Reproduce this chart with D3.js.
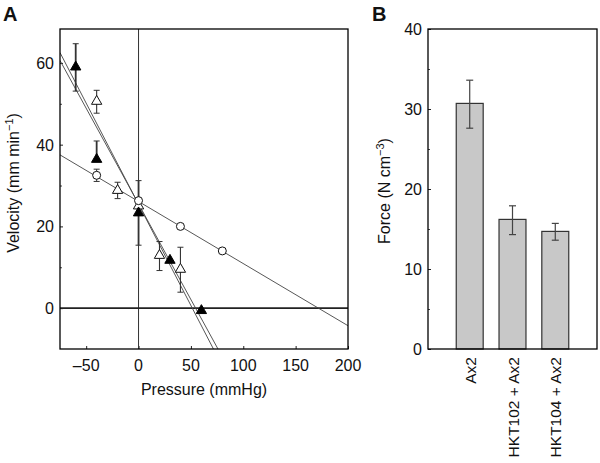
<!DOCTYPE html>
<html>
<head>
<meta charset="utf-8">
<script src="https://cdn.jsdelivr.net/npm/d3@7"></script>
<style>
body { margin: 0; background: #fff; }
text { font-family: "Liberation Sans", Arial, Helvetica, sans-serif; fill: #111; }
</style>
</head>
<body>
<svg id="chart" width="600" height="463"></svg>
<script>
// ---------- Panel A data ----------
const circlePressure = [-40, 0, 40, 80];
const circleVelocity = [32.5, 26.3, 20, 14];
const circleErr = [1.5, 0, 0, 0];

const openTriPressure = [-40, -20, 0, 20, 40];
const openTriVelocity = [50.6, 28.8, 25, 12.9, 9.5];
const openTriErrLow = [47.7, 26.8, 25, 9.2, 3.9];
const openTriErrHigh = [53.3, 30.8, 25, 16.3, 14.9];

const filledTriPressure = [-60, -40, 0, 30, 60];
const filledTriVelocity = [59, 36.4, 23.3, 11.7, -0.6];
const filledTriErrLow = [53.1, 36.4, 15.4, 11.7, -0.6];
const filledTriErrHigh = [64.7, 40.9, 31.2, 11.7, -0.6];

// regression lines: [intercept, slope]
const fitCircle = [26.1, -0.152];
const fitFilled = [25.4, -0.495];
const fitOpen = [25.5, -0.468];

const xTicksA = [-50, 0, 50, 100, 150, 200];
const yTicksA = [0, 20, 40, 60];
const yMinorA = [10, 30, 50];

// ---------- Panel B data ----------
const groups = ["Ax2", "HKT102 + Ax2", "HKT104 + Ax2"];
const force = [30.7, 16.2, 14.7];
const forceErrLow = [27.6, 14.3, 13.6];
const forceErrHigh = [33.6, 17.9, 15.7];
const yTicksB = [0, 10, 20, 30, 40];
const yMinorB = [5, 15, 25, 35];

const svg = d3.select("#chart");

// ================= Panel A =================
const A = { left: 60, right: 348, top: 29, bottom: 349 };
const x = d3.scaleLinear().domain([-75, 200]).range([A.left, A.right]);
const y = d3.scaleLinear().domain([-10, 68.3]).range([A.bottom, A.top]);

const gA = svg.append("g");
svg.append("defs").append("clipPath").attr("id", "clipA")
  .append("rect").attr("x", A.left).attr("y", A.top)
  .attr("width", A.right - A.left).attr("height", A.bottom - A.top);

// axes (ticks inward)
gA.append("g").attr("transform", `translate(0,${A.bottom})`)
  .call(d3.axisTop(x).tickValues(xTicksA).tickSize(3).tickFormat(""))
  .call(g => g.select(".domain").remove())
  .call(g => g.selectAll("line").attr("stroke", "#222"));
gA.append("g")
  .selectAll("text").data(xTicksA).join("text")
  .attr("x", d => x(d)).attr("y", A.bottom + 22)
  .attr("text-anchor", "middle").attr("font-size", 16)
  .text(d => d < 0 ? "\u2013" + Math.abs(d) : d);

gA.append("g").attr("transform", `translate(${A.left},0)`)
  .call(d3.axisRight(y).tickValues(yTicksA).tickSize(3).tickFormat(""))
  .call(g => g.select(".domain").remove())
  .call(g => g.selectAll("line").attr("stroke", "#222"));
gA.append("g").attr("transform", `translate(${A.left},0)`)
  .call(d3.axisRight(y).tickValues(yMinorA).tickSize(2).tickFormat(""))
  .call(g => g.select(".domain").remove())
  .call(g => g.selectAll("line").attr("stroke", "#444"));
gA.append("g")
  .selectAll("text").data(yTicksA).join("text")
  .attr("x", A.left - 6).attr("y", d => y(d) + 6)
  .attr("text-anchor", "end").attr("font-size", 16)
  .text(d => d);

// reference lines
gA.append("line").attr("x1", x(0)).attr("x2", x(0))
  .attr("y1", A.top).attr("y2", A.bottom)
  .attr("stroke", "#333").attr("stroke-width", 1);
gA.append("line").attr("x1", A.left).attr("x2", A.right)
  .attr("y1", y(0)).attr("y2", y(0))
  .attr("stroke", "#222").attr("stroke-width", 1.8);

// fit lines
const fits = [fitCircle, fitFilled, fitOpen];
const lineGen = d3.line().x(d => x(d[0])).y(d => y(d[1]));
gA.append("g").attr("clip-path", "url(#clipA)")
  .selectAll("path").data(fits).join("path")
  .attr("d", f => lineGen([-75, 200].map(p => [p, f[0] + f[1] * p])))
  .attr("fill", "none").attr("stroke", "#444").attr("stroke-width", 0.9);

// error bars
function errBars(g, px, lo, hi, w, color) {
  const data = px.map((p, i) => ({ p, lo: lo[i], hi: hi[i] })).filter(d => d.hi - d.lo > 0.5);
  const eg = g.append("g").attr("stroke", color).attr("stroke-width", w);
  eg.selectAll(".v").data(data).join("line")
    .attr("x1", d => x(d.p)).attr("x2", d => x(d.p))
    .attr("y1", d => y(d.lo)).attr("y2", d => y(d.hi));
  eg.selectAll(".c1").data(data).join("line")
    .attr("x1", d => x(d.p) - 3).attr("x2", d => x(d.p) + 3)
    .attr("y1", d => y(d.hi)).attr("y2", d => y(d.hi)).attr("stroke-width", 1);
  eg.selectAll(".c2").data(data).join("line")
    .attr("x1", d => x(d.p) - 3).attr("x2", d => x(d.p) + 3)
    .attr("y1", d => y(d.lo)).attr("y2", d => y(d.lo)).attr("stroke-width", 1);
}
errBars(gA, circlePressure, circleVelocity.map((v, i) => v - circleErr[i]),
        circleVelocity.map((v, i) => v + circleErr[i]), 1, "#333");
errBars(gA, openTriPressure, openTriErrLow, openTriErrHigh, 1.1, "#333");
errBars(gA, filledTriPressure, filledTriErrLow, filledTriErrHigh, 1.8, "#333");

// markers
const tri = d3.symbol().type(d3.symbolTriangle).size(46);
gA.append("g").selectAll("path").data(openTriPressure.map((p, i) => [p, openTriVelocity[i]])).join("path")
  .attr("d", tri).attr("transform", d => `translate(${x(d[0])},${y(d[1])})`)
  .attr("fill", "#fff").attr("stroke", "#111").attr("stroke-width", 1);
gA.append("g").selectAll("path").data(filledTriPressure.map((p, i) => [p, filledTriVelocity[i]])).join("path")
  .attr("d", tri).attr("transform", d => `translate(${x(d[0])},${y(d[1])})`)
  .attr("fill", "#000").attr("stroke", "#000").attr("stroke-width", 1);
gA.append("g").selectAll("circle").data(circlePressure.map((p, i) => [p, circleVelocity[i]])).join("circle")
  .attr("cx", d => x(d[0])).attr("cy", d => y(d[1])).attr("r", 4)
  .attr("fill", "#fff").attr("stroke", "#111").attr("stroke-width", 1);

// frame
gA.append("rect").attr("x", A.left).attr("y", A.top)
  .attr("width", A.right - A.left).attr("height", A.bottom - A.top)
  .attr("fill", "none").attr("stroke", "#000").attr("stroke-width", 1.3);

// titles
gA.append("text").attr("x", (A.left + A.right) / 2).attr("y", 395)
  .attr("text-anchor", "middle").attr("font-size", 16).text("Pressure (mmHg)");
const vt = gA.append("text").attr("transform", `translate(18.5,${(A.top + A.bottom) / 2 - 6}) rotate(-90)`)
  .attr("text-anchor", "middle").attr("font-size", 16);
vt.append("tspan").text("Velocity (mm min");
vt.append("tspan").attr("dy", -6).attr("font-size", 11).text("\u22121");
vt.append("tspan").attr("dy", 6).text(")");
svg.append("text").attr("x", 3).attr("y", 21).attr("font-size", 20)
  .attr("font-weight", "bold").text("A");

// ================= Panel B =================
const B = { left: 428, right: 597, top: 29, bottom: 349 };
const xb = d3.scaleBand().domain(groups).range([B.left, B.right])
  .paddingInner(0.37).paddingOuter(0.66);
const yb = d3.scaleLinear().domain([0, 40]).range([B.bottom, B.top]);
const gB = svg.append("g");

gB.append("g").attr("transform", `translate(${B.left},0)`)
  .call(d3.axisRight(yb).tickValues(yTicksB).tickSize(3).tickFormat(""))
  .call(g => g.select(".domain").remove())
  .call(g => g.selectAll("line").attr("stroke", "#222"));
gB.append("g").attr("transform", `translate(${B.left},0)`)
  .call(d3.axisRight(yb).tickValues(yMinorB).tickSize(2).tickFormat(""))
  .call(g => g.select(".domain").remove())
  .call(g => g.selectAll("line").attr("stroke", "#444"));
gB.append("g").selectAll("text").data(yTicksB).join("text")
  .attr("x", B.left - 6).attr("y", d => yb(d) + 6)
  .attr("text-anchor", "end").attr("font-size", 16).text(d => d);

gB.append("g").selectAll("rect").data(groups).join("rect")
  .attr("x", d => xb(d)).attr("width", xb.bandwidth())
  .attr("y", (d, i) => yb(force[i])).attr("height", (d, i) => yb(0) - yb(force[i]))
  .attr("fill", "#c8c8c8").attr("stroke", "#333").attr("stroke-width", 1.2);

const eb = gB.append("g").attr("stroke", "#444").attr("stroke-width", 1.2);
eb.selectAll(".v").data(groups).join("line")
  .attr("x1", d => xb(d) + xb.bandwidth() / 2).attr("x2", d => xb(d) + xb.bandwidth() / 2)
  .attr("y1", (d, i) => yb(forceErrLow[i])).attr("y2", (d, i) => yb(forceErrHigh[i]));
eb.selectAll(".t").data(groups).join("line")
  .attr("x1", d => xb(d) + xb.bandwidth() / 2 - 3.5).attr("x2", d => xb(d) + xb.bandwidth() / 2 + 3.5)
  .attr("y1", (d, i) => yb(forceErrHigh[i])).attr("y2", (d, i) => yb(forceErrHigh[i]));
eb.selectAll(".b").data(groups).join("line")
  .attr("x1", d => xb(d) + xb.bandwidth() / 2 - 3.5).attr("x2", d => xb(d) + xb.bandwidth() / 2 + 3.5)
  .attr("y1", (d, i) => yb(forceErrLow[i])).attr("y2", (d, i) => yb(forceErrLow[i]));

gB.append("g").selectAll("text").data(groups).join("text")
  .attr("transform", d => `translate(${xb(d) + xb.bandwidth() / 2 + 6},${B.bottom + 8}) rotate(-90)`)
  .attr("text-anchor", "end").attr("font-size", 15.5).text(d => d);

gB.append("rect").attr("x", B.left).attr("y", B.top)
  .attr("width", B.right - B.left).attr("height", B.bottom - B.top)
  .attr("fill", "none").attr("stroke", "#000").attr("stroke-width", 1.3);

const ft = gB.append("text").attr("transform", `translate(390,${(B.top + B.bottom) / 2 + 2}) rotate(-90)`)
  .attr("text-anchor", "middle").attr("font-size", 16);
ft.append("tspan").text("Force (N cm");
ft.append("tspan").attr("dy", -6).attr("font-size", 11).text("\u22123");
ft.append("tspan").attr("dy", 6).text(")");
svg.append("text").attr("x", 372).attr("y", 21).attr("font-size", 20)
  .attr("font-weight", "bold").text("B");
</script>
</body>
</html>
